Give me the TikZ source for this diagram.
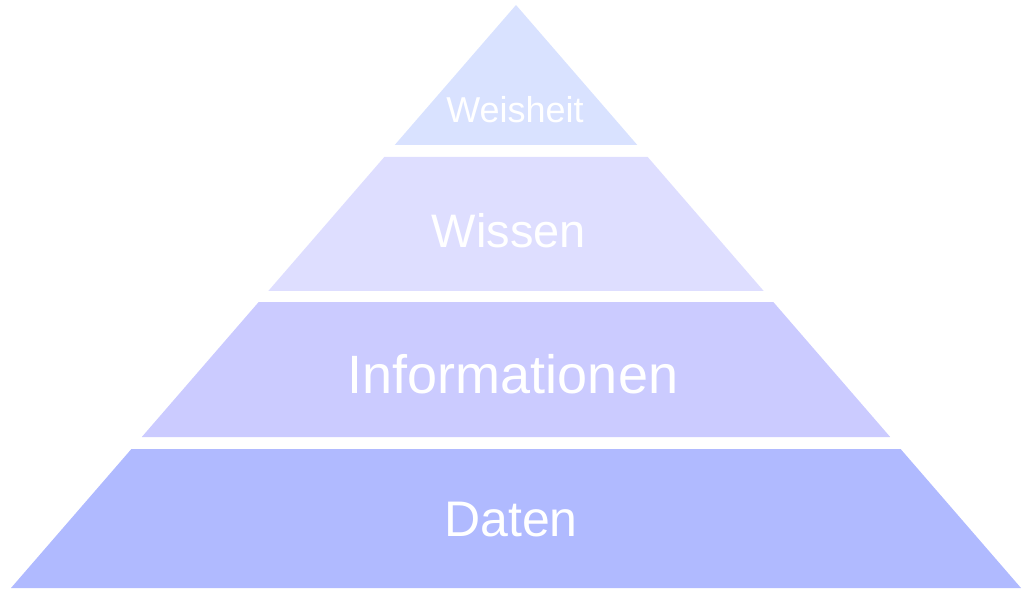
\documentclass[tikz,border=0pt]{standalone}
\usepackage{fontspec}
\setmainfont{Liberation Sans}
\definecolor{cWeis}{RGB}{217,226,255}
\definecolor{cWiss}{RGB}{222,222,255}
\definecolor{cInfo}{RGB}{203,203,255}
\definecolor{cDat}{RGB}{176,186,255}
\tikzset{
  label text/.style={text=white, anchor=base, inner sep=0pt},
}
\begin{document}
\begin{tikzpicture}[x=1pt,y=-1pt]
\useasboundingbox (0,0) rectangle (1024,601);
\fill[cWeis] (516,5) -- (637.3,145) -- (394.7,145) -- cycle;
\fill[cWiss] (384.3,157) -- (647.7,157) -- (763.7,291) -- (268.3,291) -- cycle;
\fill[cInfo] (258.7,302) -- (773.3,302) -- (890.2,437) -- (141.8,437) -- cycle;
\fill[cDat] (131.4,449) -- (900.6,449) -- (1021,588) -- (11,588) -- cycle;
\node[label text, font=\fontsize{36}{40}\selectfont] (weis) at (515,123) {Weisheit};
\node[label text, font=\fontsize{47}{52}\selectfont] (wiss) at (509,248) {Wissen};
\node[label text, font=\fontsize{54}{60}\selectfont] (info) at (513,393) {Informationen};
\node[label text, font=\fontsize{50}{56}\selectfont] (dat) at (511,536) {Daten};
\end{tikzpicture}
\end{document}
